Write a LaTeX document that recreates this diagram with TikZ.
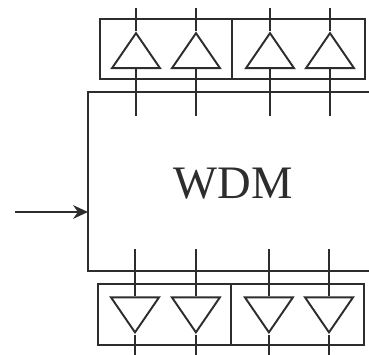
\documentclass[tikz,border=0pt]{standalone}
\usepackage{fontspec}
\setmainfont{Liberation Serif}
\usepackage{xcolor}
\usetikzlibrary{arrows.meta, positioning, shapes.geometric}
\definecolor{wireblack}{RGB}{45, 45, 45}
\tikzset{
    wire/.style={wireblack, line width=1.1pt},
    ampup/.style={draw=wireblack, line width=1.1pt, isosceles triangle, isosceles triangle stretches, shape border rotate=90, minimum width=0.96cm, minimum height=0.70cm, inner sep=0pt},
    ampdown/.style={ampup, shape border rotate=-90}
}

\begin{document}
\begin{tikzpicture}[x=0.02cm, y=-0.02cm, >={Stealth[length=8.5pt, width=7.8pt]}]
    \useasboundingbox (0,0) rectangle (369,355);
    % WDM block, open on its right side
    \draw[wire] (369,92) -- (88,92) -- (88,271) -- (369,271);
    \node[font=\fontsize{26.5}{30}\selectfont, text=wireblack] (wdm) at (233,184) {WDM};
    \coordinate (input) at (15,212);
    \coordinate (inport) at (88,212);
    \draw[wire, ->] (input) -- (inport);
    % upper amplifier boxes
    \draw[wire] (100,19) rectangle (232,79);
    \draw[wire] (232,19) rectangle (365,79);
    \draw[wire, line width=1.6pt] (232,19) -- (232,79);
    \foreach \name/\xpos in {ua/136, ub/196, uc/270, ud/330} {
        \node[ampup] (\name) at (\xpos,55.5) {};
        \coordinate (\name top) at (\xpos,8);
        \coordinate (\name bot) at (\xpos,116);
        \draw[wire] (\name top) -- (\name.apex);
        \draw[wire] (\name.lower side) -- (\name bot);
    }
    % lower amplifier boxes
    \draw[wire] (98,284) rectangle (231,345);
    \draw[wire] (231,284) rectangle (364,345);
    \draw[wire, line width=1.6pt] (231,284) -- (231,345);
    \foreach \name/\xpos in {la/135, lb/195.9, lc/268.9, ld/329} {
        \node[ampdown] (\name) at (\xpos,310) {};
        \coordinate (\name top) at (\xpos,249);
        \coordinate (\name bot) at (\xpos,355);
        \draw[wire] (\name top) -- (\name.lower side);
        \draw[wire] (\name.apex) -- (\name bot);
    }
\end{tikzpicture}
\end{document}
